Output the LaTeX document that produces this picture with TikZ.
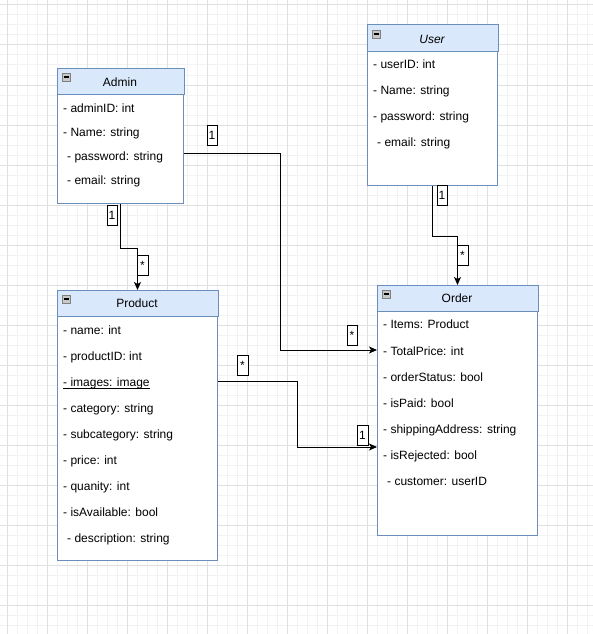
\documentclass[tikz,border=0pt]{standalone}
\usepackage{fontspec}
\setmainfont{Liberation Sans}
\usetikzlibrary{arrows.meta}
\definecolor{hdrfill}{HTML}{DAE8FC}
\definecolor{hdrline}{HTML}{6C8EBF}
\definecolor{gridminor}{HTML}{F2F2F2}
\definecolor{gridmajor}{HTML}{E0E0E0}
\definecolor{iconfill}{HTML}{C8C8C8}
\definecolor{icondraw}{HTML}{808080}
\tikzset{
  umlbody/.style={draw=hdrline, fill=white, line width=1pt, inner sep=0pt, anchor=north west},
  umlhdr/.style={draw=hdrline, fill=hdrfill, line width=1pt},
  umltitle/.style={inner sep=0pt, font=\fontsize{12pt}{14pt}\selectfont},
  umlrow/.style={anchor=west, inner sep=0pt, text height=9pt, text depth=2.5pt, font=\fontsize{12pt}{14pt}\selectfont},
  conn/.style={draw=black, line width=1pt, -{Stealth[length=8pt,width=7pt,inset=2pt]}},
  mult/.style={draw=black, fill=white, line width=0.8pt, inner sep=0pt, minimum height=20pt, font=\fontsize{12pt}{14pt}\selectfont},
  gminor/.style={draw=gridminor, line width=1pt},
  gmajor/.style={draw=gridmajor, line width=1pt}
}
\newcommand{\minusicon}[1]{%
  \draw[draw=icondraw, fill=iconfill, line width=0.6pt] ([shift={(5,5)}]#1.north west) rectangle ++(8,8);
  \draw[black, line width=1.2pt] ([shift={(6.5,9)}]#1.north west) -- ++(5,0);
}
\begin{document}
\begin{tikzpicture}[x=1pt, y=-1pt]
\useasboundingbox (0,0) rectangle (593,634);
\fill[white] (0,0) rectangle (593,634);
% grid
\foreach \x in {7,17,...,587} \draw[gminor] (\x,0) -- (\x,634);
\foreach \y in {5,15,...,625} \draw[gminor] (0,\y) -- (593,\y);
\foreach \x in {7,47,...,567} \draw[gmajor] (\x,0) -- (\x,634);
\foreach \y in {5,45,...,605} \draw[gmajor] (0,\y) -- (593,\y);

% ---------- Admin ----------
\node[umlbody, minimum width=126pt, minimum height=135pt] (admin) at (57,68) {};
\draw[umlhdr] (admin.north west) rectangle ([yshift=-26pt]admin.north east);
\minusicon{admin}
\node[umltitle] (admintitle) at (120,82) {Admin};
\node[umlrow] (a1) at (63,109) {- adminID: int};
\node[umlrow] (a2) at (63,133) {- Name: string};
\node[umlrow] (a3) at (67,157) {- password: string};
\node[umlrow] (a4) at (67,181) {- email: string};

% ---------- User ----------
\node[umlbody, minimum width=130pt, minimum height=160pt] (user) at (367,25) {};
\draw[umlhdr] (user.north west) rectangle ([yshift=-27pt]user.north east);
\minusicon{user}
\node[umltitle] (usertitle) at (432,39) {\itshape User};
\node[umlrow] (u1) at (373,65) {- userID: int};
\node[umlrow] (u2) at (373,91) {- Name: string};
\node[umlrow] (u3) at (373,117) {- password: string};
\node[umlrow] (u4) at (377,143) {- email: string};

% ---------- Product ----------
\node[umlbody, minimum width=160pt, minimum height=270pt] (product) at (57,290) {};
\draw[umlhdr] (product.north west) rectangle ([yshift=-26pt]product.north east);
\minusicon{product}
\node[umltitle] (producttitle) at (137,303) {Product};
\node[umlrow] (p1) at (63,331) {- name: int};
\node[umlrow] (p2) at (63,357) {- productID: int};
\node[umlrow] (p3) at (63,383) {- images: image};
\draw[black, line width=0.8pt] ([yshift=-1.8pt]p3.base west) -- ([yshift=-1.8pt]p3.base east);
\node[umlrow] (p4) at (63,409) {- category: string};
\node[umlrow] (p5) at (63,435) {- subcategory: string};
\node[umlrow] (p6) at (63,461) {- price: int};
\node[umlrow] (p7) at (63,487) {- quanity: int};
\node[umlrow] (p8) at (63,513) {- isAvailable: bool};
\node[umlrow] (p9) at (67,539) {- description: string};

% ---------- Order ----------
\node[umlbody, minimum width=160pt, minimum height=250pt] (order) at (377,285) {};
\draw[umlhdr] (order.north west) rectangle ([yshift=-26pt]order.north east);
\minusicon{order}
\node[umltitle] (ordertitle) at (457,298) {Order};
\node[umlrow] (o1) at (383,325) {- Items: Product};
\node[umlrow] (o2) at (383,352) {- TotalPrice: int};
\node[umlrow] (o3) at (383,378) {- orderStatus: bool};
\node[umlrow] (o4) at (383,404) {- isPaid: bool};
\node[umlrow] (o5) at (383,430) {- shippingAddress: string};
\node[umlrow] (o6) at (383,456) {- isRejected: bool};
\node[umlrow] (o7) at (387,482) {- customer: userID};

% ---------- connectors ----------
\draw[conn] (admin.south) -- ++(0,44) -| (product.north);
\draw[conn] (admin.east |- 0,153) -- (280,153) |- (order.west |- 0,350);
\draw[conn] (user.south) -- ++(0,50) -| (order.north);
\draw[conn] (product.east |- 0,381) -- (297,381) |- (order.west |- 0,447);

% ---------- multiplicities ----------
\node[mult, minimum width=10pt] (m1) at (112,215) {1};
\node[mult, minimum width=11pt] (m2) at (142.5,265) {*};
\node[mult, minimum width=10pt] (m3) at (212,135) {1};
\node[mult, minimum width=10pt] (m4) at (352,335) {*};
\node[mult, minimum width=10pt] (m5) at (442,195) {1};
\node[mult, minimum width=11pt] (m6) at (462.5,255) {*};
\node[mult, minimum width=11pt] (m7) at (242.5,365) {*};
\node[mult, minimum width=11pt] (m8) at (362.5,435) {1};
\end{tikzpicture}
\end{document}
